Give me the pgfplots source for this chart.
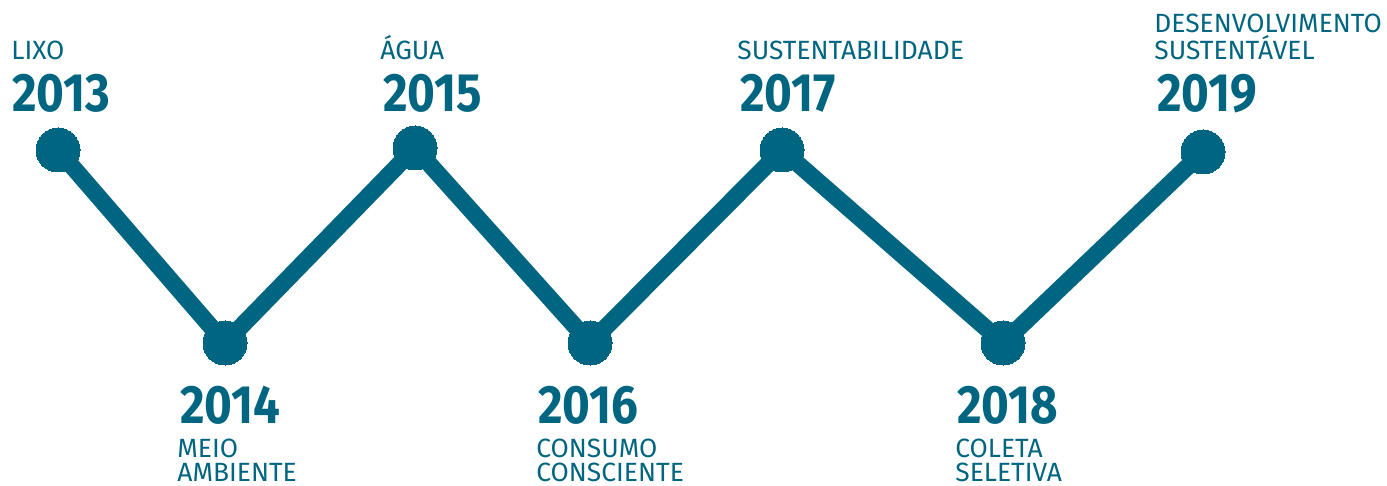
\documentclass[border=0pt]{standalone}
\usepackage{pgfplots}
\pgfplotsset{compat=1.18}
\usepackage{fontspec}
\setmainfont{Fira Sans}
\newfontfamily\yearfont[FakeStretch=0.88]{Fira Sans Bold}
\definecolor{tealc}{RGB}{0,101,128}
\begin{document}
\begin{tikzpicture}
\begin{axis}[
  scale only axis, width=693.5pt, height=243pt,
  xmin=0, xmax=1387, ymin=0, ymax=486, y dir=reverse,
  axis lines=none, ticks=none, clip=false,
]
\path (rel axis cs:0,0) rectangle (rel axis cs:1,1);
\addplot[color=tealc, line width=8.5pt, line join=round, mark=*, mark size=11pt,
  mark options={fill=tealc, draw=tealc, line width=0pt}]
  coordinates {(58,150) (225,343) (415,148) (590,343) (782,150) (1003,343) (1203,152)};
\tikzset{big/.style={anchor=base west, inner sep=0pt, text=tealc, font=\fontsize{27}{27}\yearfont},
  small/.style={anchor=base west, inner sep=0pt, text=tealc, font=\fontsize{13.2}{14}\selectfont}}
\node[small] at (axis cs:11,60) {LIXO};
\node[big] at (axis cs:12,112) {2013};
\node[small] at (axis cs:380,60) {ÁGUA};
\node[big] at (axis cs:383,112) {2015};
\node[small] at (axis cs:737,60) {SUSTENTABILIDADE};
\node[big] at (axis cs:740,112) {2017};
\node[small] at (axis cs:1154,33) {DESENVOLVIMENTO};
\node[small] at (axis cs:1154,60) {SUSTENTÁVEL};
\node[big] at (axis cs:1157,112) {2019};
\node[big] at (axis cs:180,423) {2014};
\node[small] at (axis cs:177,457) {MEIO};
\node[small] at (axis cs:177,481) {AMBIENTE};
\node[big] at (axis cs:538,423) {2016};
\node[small] at (axis cs:536,457) {CONSUMO};
\node[small] at (axis cs:536,481) {CONSCIENTE};
\node[big] at (axis cs:957,423) {2018};
\node[small] at (axis cs:955,457) {COLETA};
\node[small] at (axis cs:955,481) {SELETIVA};
\end{axis}
\end{tikzpicture}
\end{document}
